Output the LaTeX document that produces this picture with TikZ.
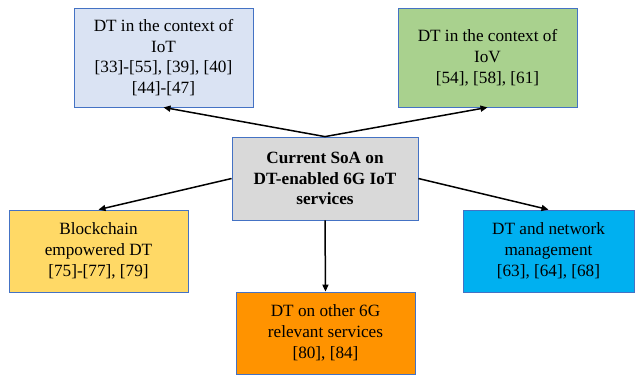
\documentclass[tikz,border=0pt]{standalone}
\usepackage{fontspec}
\setmainfont{Liberation Serif}
\usetikzlibrary{arrows.meta}
\definecolor{boxline}{HTML}{4472C4}
\definecolor{iotfill}{HTML}{DAE3F3}
\definecolor{iovfill}{HTML}{A9D18E}
\definecolor{soafill}{HTML}{D9D9D9}
\definecolor{chainfill}{HTML}{FFD966}
\definecolor{otherfill}{HTML}{FF9300}
\definecolor{netfill}{HTML}{00B0F0}
\begin{document}
\begin{tikzpicture}[x=1pt,y=-1pt,
    topic/.style={draw=boxline,line width=0.8pt,align=center,inner sep=0pt,
      font=\fontsize{17.2}{20.8}\selectfont},
    link/.style={line width=1.5pt,-{Triangle[length=7pt,width=6pt]}}]
  \useasboundingbox (0,0) rectangle (635,376);
  % topics
  \node[topic,fill=iotfill,minimum width=179pt,minimum height=99pt] (iot) at (163.5,57.5)
    {DT in the context of\\IoT\\{}[33]-[55], [39], [40]\\{}[44]-[47]};
  \node[topic,fill=iovfill,minimum width=179pt,minimum height=99pt] (iov) at (487.5,57.5)
    {DT in the context of\\IoV\\{}[54], [58], [61]};
  \node[topic,fill=soafill,minimum width=186pt,minimum height=83pt] (soa) at (325,178.5)
    {\textbf{Current SoA on}\\\textbf{DT-enabled 6G IoT}\\\textbf{services}};
  \node[topic,fill=chainfill,minimum width=179pt,minimum height=82pt] (chain) at (98.5,251)
    {Blockchain\\empowered DT\\{}[75]-[77], [79]};
  \node[topic,fill=otherfill,minimum width=179pt,minimum height=82pt] (other) at (325.5,333)
    {DT on other 6G\\relevant services\\{}[80], [84]};
  \node[topic,fill=netfill,minimum width=171pt,minimum height=82pt] (net) at (548.5,251)
    {DT and network\\management\\{}[63], [64], [68]};
  % links
  \draw[link] (soa.north) -- (iot.south);
  \draw[link] (soa.north) -- (iov.south);
  \draw[link] (soa.west) -- (chain.north);
  \draw[link] (soa.east) -- (net.north);
  \draw[link] (soa.south) -- (other.north);
\end{tikzpicture}
\end{document}
